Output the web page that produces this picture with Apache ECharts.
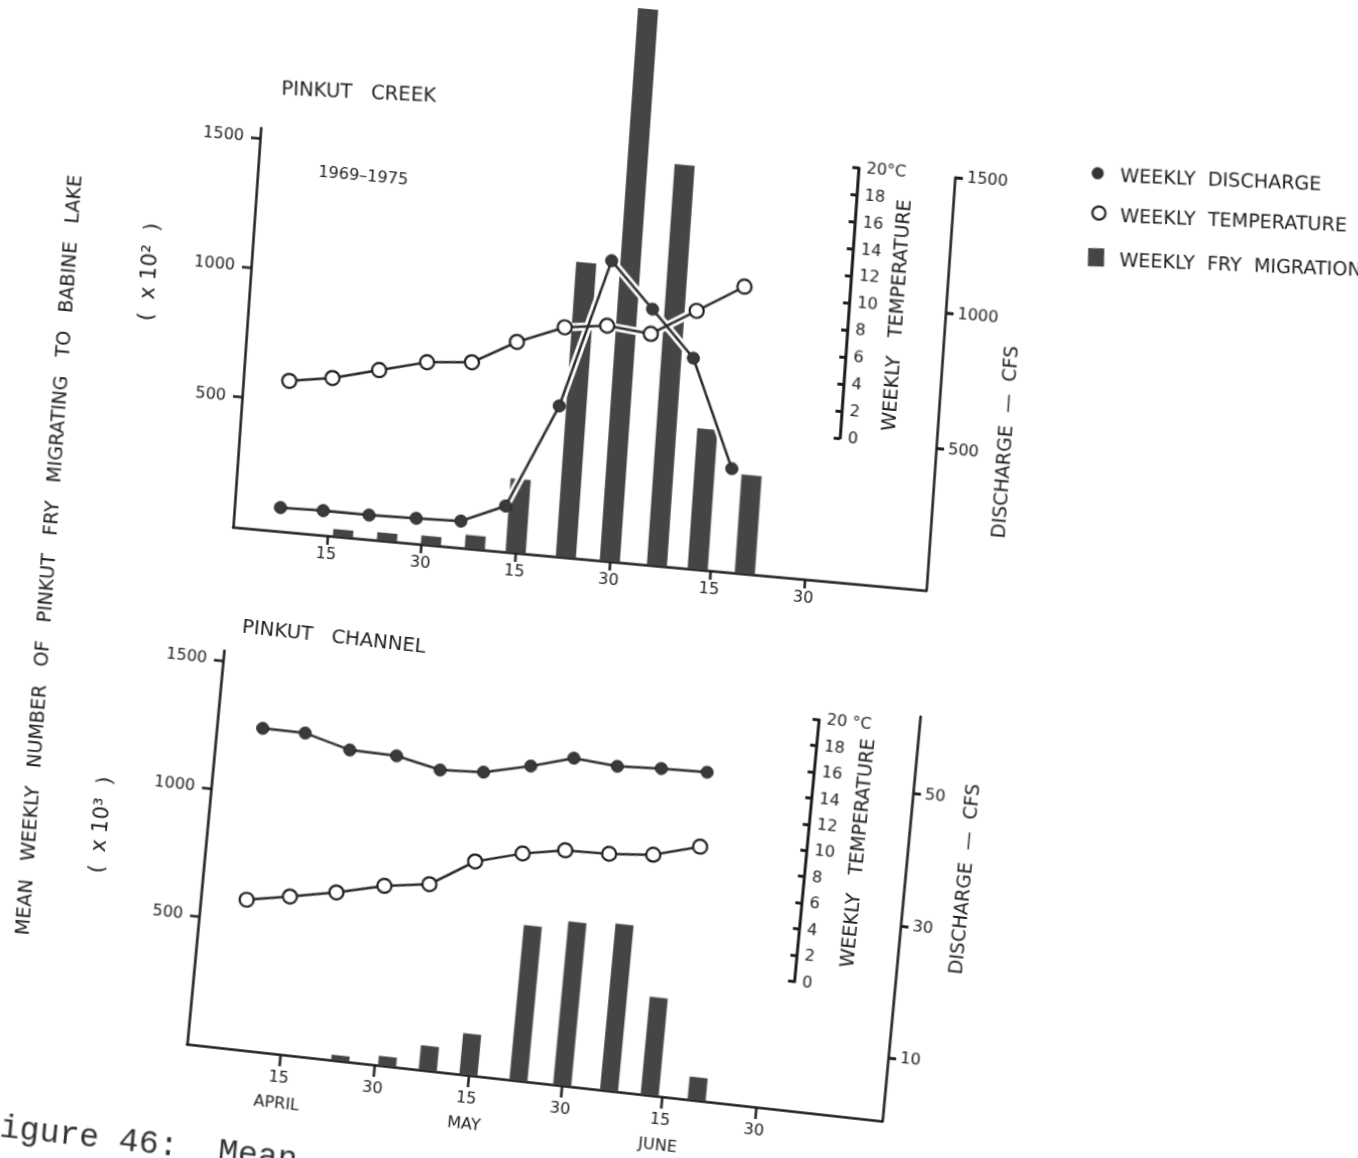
<!DOCTYPE html>
<html>
<head>
<meta charset="utf-8">
<script src="https://cdn.jsdelivr.net/npm/echarts@6/dist/echarts.min.js"></script>
<style>
html,body{margin:0;padding:0;width:1358px;height:1158px;overflow:hidden;background:#fff;}
.chart{position:absolute;left:0;top:0;width:1358px;height:1258px;transform-origin:0 0;}
#creek{transform:matrix(1.0046,0.0918,-0.0696,1.0026,42.07,-57.48);}
#channel{transform:matrix(1.0017,0.1109,-0.0930,0.9910,63.43,-55.08);}
</style>
</head>
<body>
<div id="channel" class="chart"></div>
<div id="creek" class="chart"></div>
<script>
// ---------- data (days counted from 1 April) ----------
const weekDays = [7.3, 14.1, 21.4, 28.9, 36, 42.9, 50.3, 57, 64, 71, 78.3];
const creekDischarge = [64, 67, 66, 70, 75, 145, 530, 1080, 916, 750, 358];      // cfs
const creekTemperature = [0.5, 1.0, 1.9, 2.8, 3.1, 4.9, 6.3, 6.7, 6.4, 8.4, 10.5]; // deg C
const creekBarDays = [17.5, 24.5, 31.5, 38.5, 45, 53, 60, 67.5, 74, 81.5];
const creekFry = [28, 31, 34, 52, 284, 1137, 2130, 1545, 541, 380];               // x 10^2
const channelDischarge = [49.0, 49.0, 47.2, 47.1, 45.7, 46.1, 47.8, 49.7, 49.2, 49.6, 49.8];
const channelTemperature = [1.6, 2.2, 2.9, 3.8, 4.3, 6.4, 7.4, 8.0, 8.1, 8.4, 9.4];
const channelBarDays = [24.5, 32, 38.5, 45, 53, 60, 67.5, 74, 81.5];
const channelFry = [21, 37, 96, 161, 606, 639, 650, 382, 90];                     // x 10^3
const dateTicks = [15, 30, 45, 60, 76, 91];
const dateTickLabels = ['15', '30', '15', '30', '15', '30'];
const monthNames = ['APRIL', '', 'MAY', '', 'JUNE', ''];
const fryTicks = [500, 1000, 1500];
const creekDischargeTicks = [500, 1000, 1500];
const channelDischargeTicks = [10, 30, 50];

// ---------- styling ----------
const INK = '#1e1e1e';
const FONT = '"DejaVu Sans", "Liberation Sans", sans-serif';
const BAR = '#454545';
const TICK_FS = 16;

function pairs(xs, ys) { return xs.map((x, i) => [x, ys[i]]); }

function txt(x, y, text, size, opts) {
  opts = opts || {};
  const align = opts.align || 'center';
  return {
    type: 'text', x: x, y: y, rotation: opts.rotation || 0, silent: true,
    style: {
      text: text, font: (opts.weight || 'normal') + ' ' + size + 'px ' + (opts.family || FONT),
      fill: opts.color || INK, align: align, verticalAlign: 'middle',
      textAlign: align, textVerticalAlign: 'middle'
    }
  };
}

function leftAxis(gridIndex, max) {
  return {
    gridIndex: gridIndex, type: 'value', position: 'left', min: 0, max: max,
    axisLine: { show: true, onZero: false, lineStyle: { color: INK, width: 2.5 } },
    axisTick: { show: true, customValues: fryTicks, length: 9, lineStyle: { color: INK, width: 2.5 } },
    axisLabel: { customValues: fryTicks, margin: 16, color: INK, fontSize: TICK_FS, fontFamily: FONT,
      formatter: v => String(v) },
    splitLine: { show: false }
  };
}
function tempAxis(gridIndex, label20) {
  return {
    gridIndex: gridIndex, type: 'value', position: 'left', min: 0, max: 20, interval: 2,
    axisLine: { show: true, onZero: false, lineStyle: { color: INK, width: 3 } },
    axisTick: { show: true, length: 6, lineStyle: { color: INK, width: 3 } },
    axisLabel: { inside: true, margin: 8, color: INK, fontSize: TICK_FS, fontFamily: FONT,
      formatter: v => (v === 20 ? label20 : String(v)) },
    splitLine: { show: false }
  };
}
function dischargeAxis(gridIndex, min, max, ticks) {
  return {
    gridIndex: gridIndex, type: 'value', position: 'right', min: min, max: max,
    axisLine: { show: true, onZero: false, lineStyle: { color: INK, width: 2.5 } },
    axisTick: { show: true, customValues: ticks, length: 8, lineStyle: { color: INK, width: 3 } },
    axisLabel: { customValues: ticks, margin: 12, color: INK, fontSize: TICK_FS, fontFamily: FONT,
      formatter: v => String(v) },
    splitLine: { show: false }
  };
}
function hiddenY(gridIndex, min, max) {
  return { gridIndex: gridIndex, type: 'value', min: min, max: max, show: false, splitLine: { show: false } };
}
function hiddenX(gridIndex) {
  return { gridIndex: gridIndex, type: 'value', min: 0, max: 1, show: false, splitLine: { show: false } };
}
function dateAxis(max, withMonths, tickLen) {
  return {
    gridIndex: 0, type: 'value', min: 0, max: max,
    axisLine: { show: true, onZero: false, lineStyle: { color: INK, width: 2.5 } },
    axisTick: { show: true, customValues: dateTicks, length: tickLen, lineStyle: { color: INK, width: 2.5 } },
    axisLabel: {
      customValues: dateTicks, margin: withMonths ? 11 : 11, color: INK, fontFamily: FONT, fontSize: TICK_FS,
      formatter: v => {
        const i = dateTicks.indexOf(v);
        if (i < 0) return '';
        if (withMonths && monthNames[i]) return '{d|' + dateTickLabels[i] + '}\n{m|' + monthNames[i] + '}';
        return withMonths ? '{d|' + dateTickLabels[i] + '}' : dateTickLabels[i];
      },
      rich: withMonths ? {
        d: { fontSize: TICK_FS, lineHeight: 26, fontFamily: FONT, color: INK },
        m: { fontSize: TICK_FS, lineHeight: 26, fontFamily: FONT, color: INK }
      } : undefined
    },
    splitLine: { show: false }
  };
}
function panelSeries(barDays, fry, barWidth, temps, discharge, clipBars) {
  return [
    { name: 'WEEKLY FRY MIGRATION', type: 'bar', xAxisIndex: 0, yAxisIndex: 0,
      data: pairs(barDays, fry), barWidth: barWidth, clip: clipBars,
      itemStyle: { color: BAR }, z: 2, silent: true },
    { name: 'halo-t', type: 'line', xAxisIndex: 0, yAxisIndex: 1, data: pairs(weekDays, temps),
      symbol: 'none', lineStyle: { color: '#fff', width: 8 }, z: 3, silent: true },
    { name: 'halo-d', type: 'line', xAxisIndex: 0, yAxisIndex: 2, data: pairs(weekDays, discharge),
      symbol: 'none', lineStyle: { color: '#fff', width: 8 }, z: 3, silent: true },
    { name: 'WEEKLY DISCHARGE', type: 'line', xAxisIndex: 0, yAxisIndex: 2, data: pairs(weekDays, discharge),
      symbol: 'circle', symbolSize: 12, lineStyle: { color: '#2a2a2a', width: 2.5 },
      itemStyle: { color: '#3a3a3a', borderColor: '#222', borderWidth: 1 }, z: 4, silent: true },
    { name: 'WEEKLY TEMPERATURE', type: 'line', xAxisIndex: 0, yAxisIndex: 1, data: pairs(weekDays, temps),
      symbol: 'circle', symbolSize: 14, lineStyle: { color: '#2a2a2a', width: 2.5 },
      itemStyle: { color: '#fff', borderColor: INK, borderWidth: 2.2 }, z: 5, silent: true }
  ];
}

// ---------- PINKUT CREEK (upper panel) ----------
const creek = echarts.init(document.getElementById('creek'), null, { renderer: 'canvas' });
creek.setOption({
  animation: false,
  grid: [
    { left: 229, top: 164, width: 690, height: 398 },
    { left: 823, top: 149.6, width: 1, height: 269.2 },
    { left: 918, top: 150.25, width: 1, height: 411.75 }
  ],
  xAxis: [dateAxis(110.4, false, 9), hiddenX(1), hiddenX(2)],
  yAxis: [
    leftAxis(0, 1538.7),
    hiddenY(0, -10.64, 18.93),
    hiddenY(0, -23.3, 1449.1),
    tempAxis(1, '20°C'),
    dischargeAxis(2, -23.3, 1500, creekDischargeTicks)
  ],
  series: panelSeries(creekBarDays, creekFry, 20, creekTemperature, creekDischarge, false),
  graphic: [
    txt(246.7, 124, 'PINKUT   CREEK', 19.5, { align: 'left', rotation: 0.045 }),
    txt(333.6, 203.3, '1969–1975', 16),
    txt(872, 292, 'WEEKLY   TEMPERATURE', 19, { rotation: Math.PI / 2 }),
    txt(988, 407.8, 'DISCHARGE  —  CFS', 19, { rotation: Math.PI / 2 }),
    txt(49.9, 606.3, 'MEAN   WEEKLY   NUMBER   OF   PINKUT   FRY   MIGRATING   TO   BABINE   LAKE', 19, { rotation: Math.PI / 2 }),
    txt(129.4, 316.8, '(  x 10²  )', 21, { rotation: Math.PI / 2 }),
    {
      type: 'group', x: 1060, y: 133, rotation: 0.05, silent: true,
      children: [
        { type: 'circle', shape: { cx: 0, cy: 0, r: 6 }, style: { fill: '#333' } },
        txt(22.4, 2.8, 'WEEKLY  DISCHARGE', 19, { align: 'left' }),
        { type: 'circle', shape: { cx: 2, cy: 39.5, r: 6.5 }, style: { fill: '#fff', stroke: INK, lineWidth: 2.2 } },
        txt(23.2, 42.6, 'WEEKLY  TEMPERATURE', 19, { align: 'left' }),
        { type: 'rect', shape: { x: -8, y: 74.6, width: 16, height: 18 }, style: { fill: BAR } },
        txt(23.2, 86.5, 'WEEKLY  FRY  MIGRATION', 19, { align: 'left' })
      ]
    }
  ]
});

// ---------- PINKUT CHANNEL (lower panel) ----------
const channel = echarts.init(document.getElementById('channel'), null, { renderer: 'canvas' });
channel.setOption({
  animation: false,
  grid: [
    { left: 224, top: 687, width: 694, height: 397 },
    { left: 818, top: 690.2, width: 1, height: 264.2 },
    { left: 917, top: 676, width: 1, height: 408 }
  ],
  xAxis: [dateAxis(111.2, true, 12), hiddenX(1), hiddenX(2)],
  yAxis: [
    leftAxis(0, 1538.8),
    hiddenY(0, -9.81, 20.24),
    hiddenY(0, 0.35, 60.03),
    tempAxis(1, '20 °C'),
    dischargeAxis(2, 0.35, 61.68, channelDischargeTicks)
  ],
  series: panelSeries(channelBarDays, channelFry, 18, channelTemperature, channelDischarge, true),
  graphic: [
    txt(239.8, 661.5, 'PINKUT   CHANNEL', 19.5, { align: 'left' }),
    txt(870.5, 819, 'WEEKLY   TEMPERATURE', 19, { rotation: Math.PI / 2 }),
    txt(978.5, 833.2, 'DISCHARGE  —  CFS', 19, { rotation: Math.PI / 2 }),
    txt(119.7, 874.7, '(  x 10³  )', 21, { rotation: Math.PI / 2 }),
    txt(27, 1188.6, 'Figure 46:  Mean', 33, { align: 'left', family: '"Liberation Mono", "DejaVu Sans Mono", monospace', color: '#333' })
  ]
});
</script>
</body>
</html>
